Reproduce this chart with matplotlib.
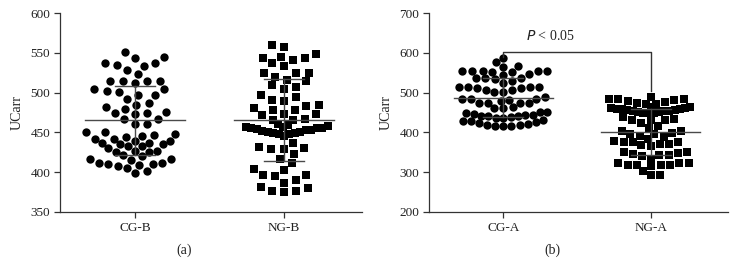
import numpy as np
import matplotlib
matplotlib.use("Agg")
import matplotlib.pyplot as plt

plt.rcParams['font.family'] = ['Liberation Serif', 'DejaVu Serif']

# ---------------- data ----------------
cats_a = ["CG-B", "NG-B"]
cats_b = ["CG-A", "NG-A"]

cg_b = [551, 544, 545, 537, 533, 535, 537, 528, 523, 515, 514, 514, 515, 512, 505, 502,
        497, 501, 504, 497, 492, 480, 485, 482, 487, 474, 473, 474, 476, 461, 467, 467,
        461, 450, 450,
        448, 445, 442, 439, 437, 435, 433, 433, 435, 437, 439, 442, 444, 447,
        430, 427, 427, 425, 420, 417, 415, 417, 421, 425, 412, 410, 409, 405, 399, 401,
        408, 410, 412]

ng_b = [560, 557, 549, 545, 543, 537, 533, 541, 544, 524, 520, 525, 524, 514, 509, 505,
        516, 507, 491, 497, 490, 494, 478, 473, 483, 472, 481, 484, 473, 478, 466, 465, 467,
        461, 459, 457, 455, 453, 451, 449, 448, 446, 448, 449, 451, 452, 453, 454, 455, 456, 457, 458,
        432, 429, 423, 429, 430, 437, 412, 417, 403, 404, 390, 396, 395, 397, 387, 382, 377,
        375, 377, 380]

cg_a = [588, 576, 565, 567, 554, 554, 552, 547, 544, 552, 554, 554, 554, 537, 534, 525,
        530, 536, 536, 514, 514, 512, 502, 512, 515, 502, 507, 507, 513,
        485, 482, 475, 475, 485, 475, 475, 479, 483, 488,
        461, 463, 451, 447, 444, 442, 440, 442, 444, 448, 452, 461,
        436, 432, 428, 425, 421, 419, 417, 415, 417, 419, 423, 429, 436, 438]

ng_a = [484, 483, 480, 472, 472, 475, 477, 482, 484, 490,
        463, 461, 459, 457, 455, 453, 451, 449, 448, 450, 452, 454, 456, 458, 460, 462, 465,
        433, 430, 423, 417, 432, 430, 438,
        412, 404, 397, 392, 397, 398, 404,
        383, 377, 377, 371, 368, 365, 371, 377, 379, 388,
        351, 348, 342, 340, 342, 346, 350,
        323, 323, 318, 318, 304, 315, 318, 319, 323, 334,
        292, 292]

# mean and SD
mean_a = [465, 466]
sd_a = [43.5, 51.5]
mean_b = [487, 402]
sd_b = [49, 58]

p_text = "< 0.05"


def swarm_offsets(ax, vals, center, gap, maxw, wy=7.5, t=2.5, hmax=14.0, wmin=5.0):
    """Prism-like scatter layout computed in pixel space."""
    ys = np.asarray(vals, float)
    py = ax.transData.transform(np.column_stack([np.full(len(ys), center), ys]))[:, 1]
    order = np.argsort(py, kind="stable")
    ncl = np.zeros(len(ys))
    groups, cur = [], [order[0]]
    for a, b in zip(order[:-1], order[1:]):
        if py[b] - py[a] > t or py[b] - py[cur[0]] > hmax:
            groups.append(cur)
            cur = [b]
        else:
            cur.append(b)
    groups.append(cur)
    for g in groups:
        ncl[g] = len(g)
    wx = np.clip(maxw / ncl, wmin, gap)

    placed = []
    offs = np.zeros(len(ys))
    sgn = 1.0
    for i in order:
        y = py[i]
        cands = [0.0]
        for j in placed:
            dy = abs(y - py[j])
            if dy < wy:
                w = min(wx[i], wx[j])
                dx = w * np.sqrt(1 - (dy / wy) ** 2)
                cands += [offs[j] + dx, offs[j] - dx]
        cands.sort(key=lambda c: (round(abs(c), 3), -c * sgn))
        for c in cands:
            ok = True
            for j in placed:
                w = min(wx[i], wx[j])
                if ((c - offs[j]) / w) ** 2 + ((y - py[j]) / wy) ** 2 < 1 - 1e-6:
                    ok = False
                    break
            if ok:
                offs[i] = c
                break
        if offs[i] != 0:
            sgn = -np.sign(offs[i])
        placed.append(i)
    x0 = ax.transData.transform((center, 0))[0]
    x1 = ax.transData.transform((center + 1, 0))[0]
    return center + offs / (x1 - x0)


fig = plt.figure(figsize=(7.37, 2.76), dpi=100)
ax1 = fig.add_axes([60 / 737, 1 - 212 / 276, (362 - 60) / 737, 199 / 276])
ax2 = fig.add_axes([429 / 737, 1 - 212 / 276, (728 - 429) / 737, 199 / 276])

line_c = "#4a4a4a"
spine_c = "#333333"


def setup(ax, ylim, yticks, cats):
    ax.set_xlim(-0.503, 1.523)
    ax.set_ylim(*ylim)
    ax.set_yticks(yticks)
    ax.set_xticks([0, 1])
    ax.set_xticklabels(cats)
    for s in ["top", "right"]:
        ax.spines[s].set_visible(False)
    for s in ["left", "bottom"]:
        ax.spines[s].set_color(spine_c)
        ax.spines[s].set_linewidth(0.9)
    ax.tick_params(direction="out", length=4, width=0.9, color=spine_c,
                   labelsize=9.5, labelcolor="#222222", pad=3)
    ax.set_ylabel("UCarr", fontsize=10, color="#222222", labelpad=5)


def draw_group(ax, vals, center, marker, mean, sd, **kw):
    xs = swarm_offsets(ax, vals, center, **kw)
    ax.scatter(xs, vals, marker=marker, s=36 if marker == "o" else 30,
               color="black", linewidths=0, zorder=2)
    ax.plot([center - 0.335, center + 0.335], [mean, mean], color=line_c, lw=1.0, zorder=3)
    ax.plot([center - 0.134, center + 0.134], [mean + sd, mean + sd], color=line_c, lw=1.0, zorder=3)
    ax.plot([center - 0.134, center + 0.134], [mean - sd, mean - sd], color=line_c, lw=1.0, zorder=3)
    ax.plot([center, center], [mean - sd, mean + sd], color=line_c, lw=1.0, zorder=3)


setup(ax1, (350, 600), [350, 400, 450, 500, 550, 600], cats_a)
setup(ax2, (200, 700), [200, 300, 400, 500, 600, 700], cats_b)

left_kw = dict(gap=12.5, maxw=105, wy=9.0, hmax=12.0, wmin=5.5)
right_kw = dict(gap=9.5, maxw=90, wy=7.5, hmax=7.0, wmin=5.0)
draw_group(ax1, cg_b, 0, "o", mean_a[0], sd_a[0], **left_kw)
draw_group(ax1, ng_b, 1, "s", mean_a[1], sd_a[1], **left_kw)
draw_group(ax2, cg_a, 0, "o", mean_b[0], sd_b[0], **right_kw)
draw_group(ax2, ng_a, 1, "s", mean_b[1], sd_b[1], **right_kw)

# significance bracket
ax2.plot([0, 0, 1, 1], [590, 602, 602, 505], color="#333333", lw=1.0, zorder=3)
ax2.text(0.32, 625, r"$P$ " + p_text, ha="center", va="bottom", fontsize=10, color="#222222")

fig.text(0.25, 0.094, "(a)", ha="center", va="center", fontsize=10, color="#222222")
fig.text(0.75, 0.094, "(b)", ha="center", va="center", fontsize=10, color="#222222")

fig.savefig("out.png", dpi=100)
